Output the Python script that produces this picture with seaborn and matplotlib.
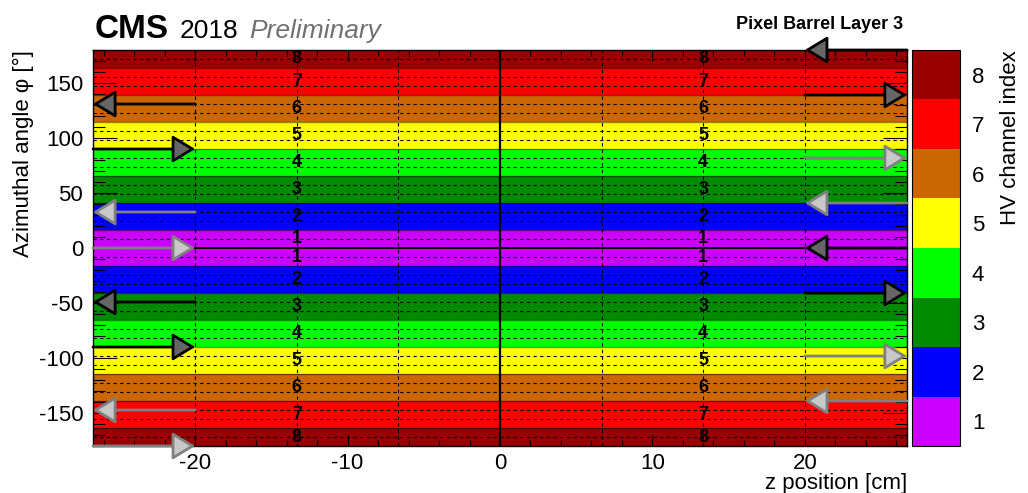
import numpy as np
import matplotlib
matplotlib.use("Agg")
import matplotlib.pyplot as plt
import seaborn as sns
from matplotlib.colors import ListedColormap
from matplotlib.patches import FancyArrowPatch
from matplotlib.ticker import MultipleLocator
from matplotlib.transforms import blended_transform_factory

# --- Data ---
# HV channel of every ladder, going up from phi = -180 (44 ladders)
ladder_channel = [8, 8, 7, 7, 7, 6, 6, 6, 5, 5, 5, 4, 4, 4, 3, 3, 3, 2, 2, 2, 1, 1,
                  1, 1, 2, 2, 2, 3, 3, 3, 4, 4, 4, 5, 5, 5, 6, 6, 6, 7, 7, 7, 8, 8]
channel_ticks = [1, 2, 3, 4, 5, 6, 7, 8]
channel_colors = ['#cc00ff', '#0000ff', '#008a00', '#00ff00',
                  '#ffff00', '#cc6600', '#ff0000', '#990000']

z_range = [-26.7, 26.7]
phi_range = [-180, 180]
module_edges = [-20.0, -13.33, -6.67, 6.67, 13.33, 20.0]
label_z = [-13.33, 13.33]

# cable arrows, -1 = pointing to negative z, +1 = pointing to positive z
left_phi = [130.9, 90.0, 32.7, 0.0, -49.1, -90.0, -147.3, -180.0]
left_dir = [-1, 1, -1, 1, -1, 1, -1, 1]
left_style = ['dark', 'dark', 'light', 'light', 'dark', 'dark', 'light', 'light']
right_phi = [180.0, 139.1, 81.8, 40.9, 0.0, -40.9, -98.2, -139.1]
right_dir = [-1, 1, 1, -1, -1, 1, 1, -1]
right_style = ['dark', 'dark', 'light', 'light', 'dark', 'dark', 'light', 'light']

arrow_colors = {'dark': ('black', '#666666'), 'light': ('#808080', '#c8c8c8')}


def main():
    sns.set_theme(style="ticks")
    plt.rcParams['font.family'] = ['Liberation Sans', 'DejaVu Sans']
    plt.rcParams['axes.unicode_minus'] = False
    for key in ['text.color', 'axes.labelcolor', 'xtick.color', 'ytick.color', 'axes.edgecolor']:
        plt.rcParams[key] = 'black'

    W, H = 1028, 493
    fig = plt.figure(figsize=(W / 100, H / 100), dpi=100)
    rect = [93 / W, 1 - 446 / H, 814 / W, 396 / H]
    bg = fig.add_axes(rect)
    cax = fig.add_axes([911.5 / W, 1 - 446 / H, 48 / W, 396 / H])

    # --- HV channel map (rows from top = phi 180 downwards) ---
    rows = ladder_channel[::-1]
    grid = np.array(rows).reshape(-1, 1)
    sns.heatmap(grid, ax=bg, cbar_ax=cax, cmap=ListedColormap(channel_colors),
                vmin=0.5, vmax=8.5, xticklabels=False, yticklabels=False)
    bg.set_axis_off()

    cb = bg.collections[0].colorbar
    cb.set_ticks(channel_ticks)
    cb.outline.set_linewidth(0.8)
    cb.outline.set_edgecolor('black')
    cax.tick_params(length=0, labelsize=16, pad=9)

    # ladder boundaries: dashed, channel boundaries: darker solid
    for r in range(1, len(rows)):
        if rows[r] != rows[r - 1]:
            bg.axhline(r, color='black', alpha=0.45, lw=1.0)
        else:
            bg.axhline(r, color='black', lw=0.8, ls=(0, (3, 3)))

    # --- overlay axes in z / phi ---
    ax = fig.add_axes(rect)
    ax.patch.set_alpha(0)
    ax.set_xlim(z_range)
    ax.set_ylim(phi_range)

    for z in module_edges:
        ax.axvline(z, color='black', lw=0.8, ls=(0, (3, 3)))
    ax.axvline(0, color='black', lw=1.6)
    ax.plot([module_edges[0], module_edges[-1]], [0, 0], color='black', lw=1.4)

    # channel labels, one per channel run in each half barrel
    trans = blended_transform_factory(ax.transData, bg.transData)
    half = len(rows) // 2
    for h0 in (0, half):
        seg = rows[h0:h0 + half]
        start = 0
        for i in range(1, len(seg) + 1):
            if i == len(seg) or seg[i] != seg[start]:
                yc = h0 + (start + i) / 2
                for z in label_z:
                    ax.text(z, yc, str(seg[start]), transform=trans, ha='center',
                            va='center', fontsize=13, fontweight='bold')
                start = i

    # cable arrows
    for ends, phis, dirs, styles in [((z_range[0], module_edges[0]), left_phi, left_dir, left_style),
                                     ((module_edges[-1], z_range[1]), right_phi, right_dir, right_style)]:
        a, b = ends
        for phi, d, s in zip(phis, dirs, styles):
            tail, head = (b, a) if d < 0 else (a, b)
            ec, fc = arrow_colors[s]
            arr = FancyArrowPatch((tail, phi), (head, phi),
                                  arrowstyle='-|>,head_length=14,head_width=8.5',
                                  mutation_scale=1, shrinkA=0, shrinkB=0,
                                  lw=2.0, edgecolor=ec, facecolor=fc,
                                  clip_on=False, zorder=5)
            ax.add_patch(arr)

    ax.xaxis.set_major_locator(MultipleLocator(10))
    ax.xaxis.set_minor_locator(MultipleLocator(2))
    ax.yaxis.set_major_locator(MultipleLocator(50))
    ax.yaxis.set_minor_locator(MultipleLocator(10))
    ax.tick_params(axis='x', which='major', direction='in', length=8, width=0.8,
                   top=True, bottom=True, labelsize=16, pad=5)
    ax.tick_params(axis='x', which='minor', direction='in', length=4, width=0.8,
                   top=True, bottom=True)
    ax.tick_params(axis='y', which='major', direction='in', length=17, width=0.8,
                   left=True, right=True, labelsize=16, pad=7)
    ax.tick_params(axis='y', which='minor', direction='in', length=8.5, width=0.8,
                   left=True, right=True)
    for sp in ax.spines.values():
        sp.set_linewidth(1.0)
        sp.set_color('black')

    # --- texts ---
    fig.text(95 / W, 1 - 38 / H, "CMS", fontsize=24, fontweight='bold', va='baseline')
    fig.text(180 / W, 1 - 38 / H, "2018", fontsize=19, va='baseline')
    fig.text(249 / W, 1 - 38 / H, "Preliminary", fontsize=19, style='italic',
             color='#707070', va='baseline')
    fig.text(903 / W, 1 - 29 / H, "Pixel Barrel Layer 3", fontsize=13,
             fontweight='bold', ha='right', va='baseline')
    fig.text(23 / W, 1 - 50 / H, "Azimuthal angle \u03c6 [\u00b0]", rotation=90,
             ha='center', va='top', fontsize=16)
    fig.text(1010 / W, 1 - 50 / H, "HV channel index", rotation=90,
             ha='center', va='top', fontsize=16)
    fig.text(907 / W, 1 - 489 / H, "z position [cm]", ha='right', va='baseline', fontsize=16)

    fig.savefig('out.png', dpi=100)


if __name__ == '__main__':
    main()
